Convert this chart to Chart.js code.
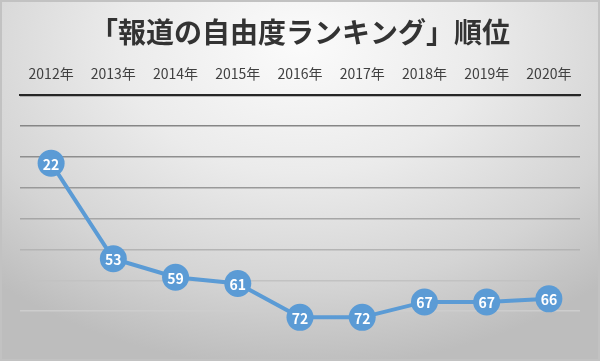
<!DOCTYPE html>
<html lang="ja">
<head>
  <meta charset="utf-8" />
  <title>報道の自由度ランキング</title>
  <script src="https://cdn.jsdelivr.net/npm/chart.js"></script>
  <style>
    body { margin: 0; }
    #wrap {
      width: 600px; height: 361px; position: relative; box-sizing: border-box;
      background: radial-gradient(ellipse 75% 90% at 50% 12%, #fbfbfb 0%, #ebebeb 40%, #d4d4d4 75%, #bdbdbd 100%);
      box-shadow: inset 0 0 0 2px #c2c2c2;
    }
  </style>
</head>
<body>
  <div id="wrap"><canvas id="rankChart"></canvas></div>

  <script>
    const titleText = '「報道の自由度ランキング」順位';
    const years = ['2012年','2013年','2014年','2015年','2016年','2017年','2018年','2019年','2020年'];
    const ranks = [22, 53, 59, 61, 72, 72, 67, 67, 66];
    const blue = '#5b9bd5';
    const jpFont = '"Noto Sans CJK JP", "Noto Sans", sans-serif';

    // white numbers inside the round markers
    const pointLabels = {
      id: 'pointLabels',
      afterDatasetsDraw(chart) {
        const ctx = chart.ctx;
        const meta = chart.getDatasetMeta(0);
        ctx.save();
        ctx.fillStyle = '#ffffff';
        ctx.font = 'bold 14px ' + jpFont;
        ctx.textAlign = 'center';
        ctx.textBaseline = 'middle';
        meta.data.forEach((pt, i) => {
          ctx.fillText(String(ranks[i]), pt.x, pt.y + 1);
        });
        ctx.restore();
      }
    };

    new Chart(document.getElementById('rankChart'), {
      type: 'line',
      data: {
        labels: years,
        datasets: [{
          data: ranks,
          borderColor: blue,
          borderWidth: 4,
          backgroundColor: blue,
          pointRadius: 13.5,
          pointBorderWidth: 0,
          pointBackgroundColor: blue,
          tension: 0
        }]
      },
      options: {
        responsive: true,
        maintainAspectRatio: false,
        animation: false,
        layout: { padding: { left: 20, right: 20, bottom: 19, top: 16 } },
        plugins: {
          legend: { display: false },
          tooltip: { enabled: false },
          title: {
            display: true,
            text: titleText,
            color: '#333333',
            font: { family: jpFont, size: 28, weight: 'bold' },
            padding: { top: 0, bottom: 3 }
          }
        },
        scales: {
          x: {
            position: 'top',
            offset: true,
            grid: { display: false, drawTicks: false },
            border: { display: true, color: '#262626', width: 2 },
            ticks: {
              color: '#404040',
              font: { family: jpFont, size: 14 },
              padding: 13,
              maxRotation: 0,
              autoSkip: false
            }
          },
          y: {
            reverse: true,
            min: 0,
            max: 80,
            ticks: { display: false, stepSize: 10 },
            grid: {
              drawTicks: false,
              lineWidth: 1.5,
              color: c => c.index === 0 ? 'rgba(0,0,0,0)' : ['#d0d0d0','#cdcdcd','#c2c2c2','#b4b4b4','#a6a6a6','#999999','#8e8e8e','#868686','#808080'][c.index]
            },
            border: { display: false }
          }
        }
      },
      plugins: [pointLabels]
    });
  </script>
</body>
</html>
